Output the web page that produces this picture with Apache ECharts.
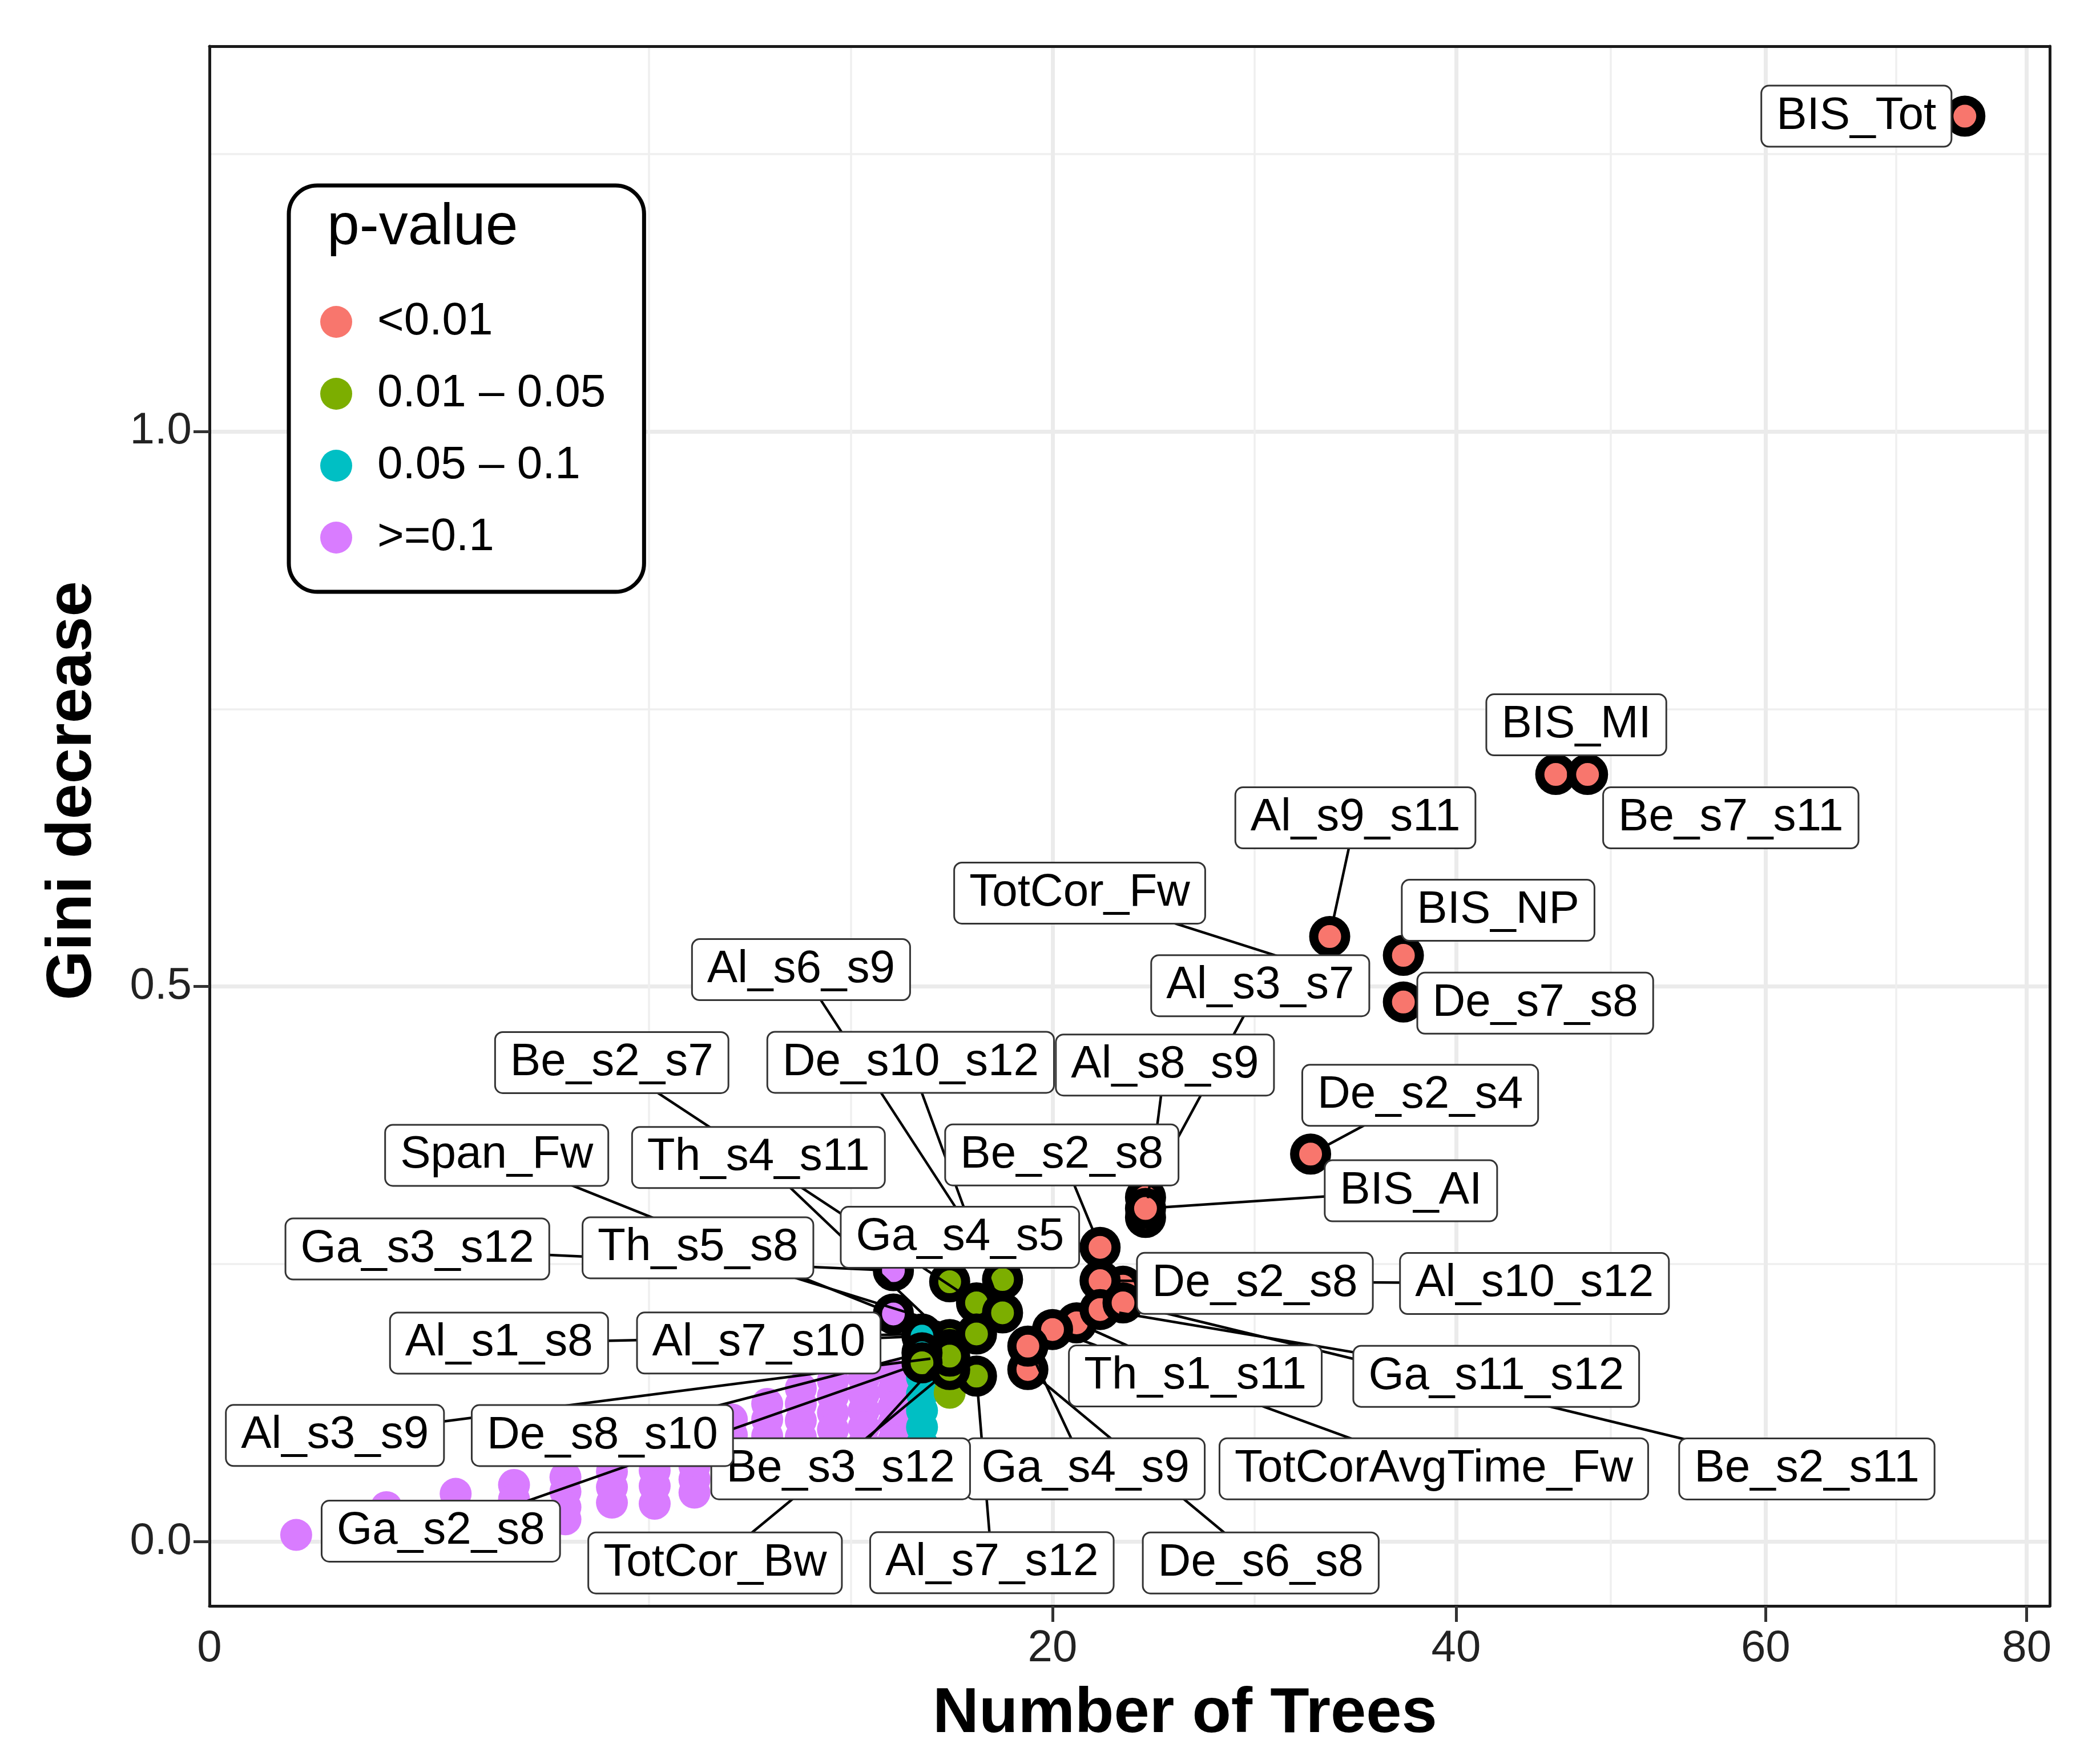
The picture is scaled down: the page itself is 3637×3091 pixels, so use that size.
<!DOCTYPE html>
<html>
<head>
<meta charset="utf-8">
<script src="https://cdn.jsdelivr.net/npm/echarts@6/dist/echarts.min.js"></script>
<style>
html,body{margin:0;padding:0;background:#fff;}
#chart{width:3637px;height:3091px;}
</style>
</head>
<body>
<div id="chart"></div>
<script>
// ---------------- data ----------------
const groups = ['<0.01', '0.01 – 0.05', '0.05 – 0.1', '>=0.1'];
const groupColors = ['#F8766D', '#7CAE00', '#00BFC4', '#D97CFF'];

const xTickValues = [0, 20, 40, 60, 80];
const yTickValues = [0, 0.5, 1.0];
const yMinorValues = [0.25, 0.75, 1.25];

// labelled variables (number of trees, Gini decrease, p-value group index)
const labNames = ['BIS_Tot','BIS_MI','Be_s7_s11','Al_s9_s11','TotCor_Fw','BIS_NP','De_s7_s8','Al_s3_s7','Al_s8_s9','De_s2_s4','BIS_AI','De_s2_s8','Al_s10_s12','Th_s1_s11','Ga_s11_s12','Be_s2_s11','TotCorAvgTime_Fw','De_s6_s8','Ga_s4_s9','Be_s2_s8','Al_s7_s12','TotCor_Bw','Ga_s4_s5','Al_s6_s9','Be_s2_s7','De_s10_s12','Th_s4_s11','Be_s3_s12','Ga_s3_s12','Span_Fw','Th_s5_s8','Al_s1_s8','Al_s7_s10','Al_s3_s9','De_s8_s10','Ga_s2_s8'];
const labTrees = [75,46,48,33,34,37,37,24,24,32,24,23,22,21,22,23,20,19,19,22,17,16,16,18,17,18,16,16,14,14,17,15,15,16,15,15];
const labGini = [1.284,0.691,0.691,0.545,0.507,0.528,0.486,0.310,0.292,0.349,0.300,0.230,0.235,0.197,0.209,0.215,0.191,0.155,0.176,0.265,0.149,0.155,0.234,0.236,0.215,0.206,0.182,0.173,0.244,0.205,0.187,0.187,0.185,0.167,0.170,0.161];
const labGroup = [0,0,0,0,0,0,0,0,0,0,0,0,0,0,0,0,0,0,0,0,1,1,1,1,1,1,1,1,3,3,1,1,2,1,2,1];

// unlabelled variables
const purpleTrees = [1,2,2,3,3,3,4,4,4,5,5,5,5,6,6,6,7,7,7,8,8,8,9,9,9,9,9,10,10,10,10,10,10,11,11,11,11,11,11,11,12,12,12,12,12,12,12,13,13,13,13,13,13,13,14,14,14,14,14,14,14];
const purpleGini = [0.006,0.031,0.016,0.043,0.029,0.015,0.051,0.038,0.024,0.058,0.045,0.031,0.020,0.063,0.049,0.035,0.064,0.050,0.034,0.068,0.056,0.044,0.110,0.096,0.081,0.066,0.052,0.124,0.110,0.095,0.080,0.066,0.055,0.138,0.124,0.109,0.094,0.079,0.065,0.054,0.145,0.131,0.116,0.101,0.086,0.071,0.057,0.147,0.133,0.118,0.103,0.088,0.073,0.059,0.150,0.136,0.121,0.106,0.091,0.076,0.061];
const cyanTrees = [15,15,15,15,15];
const cyanGini = [0.148,0.133,0.118,0.103,0.088];
const greenTrees = [16,16];
const greenGini = [0.147,0.134];
const redTrees = [];
const redGini = [];

// ---------------- layout (ggrepel-like label offsets in px, and whether a segment is drawn) ----------------
const labOffsets = [[-190,0],[36,-87],[251,76],[45,-208],[-471,-150],[166,-79],[231,2],[201,-371],[34,-267],[192,-103],[465,-31],[231,-5],[761,5],[208,93],[694,117],[1198,291],[668,244],[408,339],[101,215],[-67,-162],[27,327],[-411,339],[18,-78],[-353,-543],[-639,-421],[-161,-439],[-335,-319],[-191,209],[-834,-38],[-695,-278],[-488,-151],[-741,16],[-286,12],[-1077,139],[-560,145],[-843,295]];
const labSegment = [false,false,false,true,true,false,false,true,true,true,true,false,true,true,true,true,true,true,true,true,true,true,false,true,true,true,true,true,true,true,true,true,true,true,true,true];

// ---------------- chart ----------------
const FONT = '"Liberation Sans", Arial, Helvetica, sans-serif';
const X_MIN = 0.602, X_MAX = 9.05, Y_MIN = -0.058, Y_MAX = 1.347;

const sq = v => Math.sqrt(v);
const xMajor = xTickValues.filter(v => sq(v) >= X_MIN && sq(v) <= X_MAX).map(sq);
const xLabelPos = xTickValues.map(v => Math.min(Math.max(sq(v), X_MIN), X_MAX));
// ggplot-style minor breaks in transformed space
const ext = xMajor.slice();
ext.unshift(xMajor[0] - (xMajor[1] - xMajor[0]));
ext.push(xMajor[xMajor.length - 1] + (xMajor[xMajor.length - 1] - xMajor[xMajor.length - 2]));
const xMinor = [];
for (let i = 0; i < ext.length - 1; i++) {
  xMinor.push((ext[i] + ext[i + 1]) / 2);
}
xMinor.push(ext[0]);
const xMinorIn = xMinor.filter(v => v > X_MIN && v < X_MAX && xMajor.every(m => Math.abs(m - v) > 1e-6));

const toPts = (t, g) => t.map((v, i) => [sq(v), g[i]]);
const groupData = [toPts(redTrees, redGini), toPts(greenTrees, greenGini), toPts(cyanTrees, cyanGini), toPts(purpleTrees, purpleGini)];
const labValues = labNames.map((nm, i) => [sq(labTrees[i]), labGini[i]]);

const series = [];
[3, 2, 1, 0].forEach(gi => {
  series.push({
    type: 'scatter', name: groups[gi], z: 2, symbol: 'circle', symbolSize: 56,
    itemStyle: { color: groupColors[gi], opacity: 1 },
    data: groupData[gi], silent: true, emphasis: { disabled: true }
  });
});

// labelled points (black outline)
series.push({
  type: 'scatter', name: 'labelled', z: 3, symbol: 'circle', symbolSize: 56,
  data: labNames.map((nm, i) => ({ name: nm, value: labValues[i], itemStyle: { color: groupColors[labGroup[i]] } })),
  itemStyle: { borderColor: '#000', borderWidth: 16, opacity: 1 },
  silent: true, emphasis: { disabled: true }
});

// repel segments: from the point's edge towards the label centre (the label box hides the rest)
series.push({
  type: 'custom', name: 'segments', z: 4, silent: true,
  coordinateSystem: 'cartesian2d',
  encode: { x: 0, y: 1 },
  data: labValues,
  renderItem: (params, api) => {
    const i = params.dataIndex;
    if (!labSegment[i]) return { type: 'group', children: [] };
    const p = api.coord([api.value(0), api.value(1)]);
    const dx = labOffsets[i][0], dy = labOffsets[i][1];
    const len = Math.hypot(dx, dy);
    const r = 34;
    return {
      type: 'line',
      shape: { x1: p[0] + dx / len * r, y1: p[1] + dy / len * r, x2: p[0] + dx, y2: p[1] + dy },
      style: { stroke: '#000', lineWidth: 4.5, opacity: 1 }
    };
  }
});

// label boxes
series.push({
  type: 'scatter', name: 'labels', z: 5, symbol: 'circle', symbolSize: 0.1,
  data: labNames.map((nm, i) => ({ name: nm, value: labValues[i] })),
  itemStyle: { color: 'rgba(0,0,0,0)', opacity: 1 },
  label: {
    show: true, position: 'inside', formatter: '{b}', fontSize: 80, lineHeight: 80, fontFamily: FONT,
    color: '#000', opacity: 1, backgroundColor: '#fff', borderColor: '#333', borderWidth: 3, borderRadius: 12,
    padding: [13, 25, 11, 25]
  },
  labelLayout: p => ({ dx: labOffsets[p.dataIndex][0], dy: labOffsets[p.dataIndex][1] }),
  silent: true, emphasis: { disabled: true }
});

const option = {
  animation: false,
  backgroundColor: '#fff',
  textStyle: { fontFamily: FONT },
  grid: { left: 367, right: 46, top: 81, bottom: 277 },
  title: {
    text: 'p-value', left: 568, top: 344, z: 10,
    textStyle: { fontSize: 102, fontWeight: 'normal', color: '#000', fontFamily: FONT }
  },
  legend: {
    orient: 'vertical', left: 506, top: 325, z: 8,
    padding: [199, 67, 55, 55], itemWidth: 134, itemHeight: 56, itemGap: 46,
    icon: 'circle', symbolKeepAspect: true, selectedMode: false,
    backgroundColor: '#fff', borderColor: '#000', borderWidth: 7, borderRadius: 50,
    textStyle: { fontSize: 80, lineHeight: 80, color: '#000', fontFamily: FONT },
    data: groups.map((g, i) => ({ name: g, icon: 'circle', itemStyle: { color: groupColors[i], borderWidth: 0 } }))
  },
  xAxis: [{
    type: 'value', min: X_MIN, max: X_MAX, position: 'bottom',
    name: 'Number of Trees', nameLocation: 'middle', nameGap: 134,
    nameTextStyle: { fontSize: 112, fontWeight: 'bold', color: '#000', fontFamily: FONT, padding: [0, 0, 0, 194] },
    axisLine: { show: true, onZero: false, lineStyle: { color: '#1a1a1a', width: 5 } },
    axisTick: { show: true, customValues: xMajor, length: 28, lineStyle: { color: '#333', width: 5 } },
    axisLabel: {
      show: true, customValues: xLabelPos, fontSize: 78, color: '#222', margin: 36, fontFamily: FONT,
      formatter: v => { const i = xLabelPos.findIndex(p => Math.abs(p - v) < 1e-6); return i >= 0 ? String(xTickValues[i]) : ''; }
    },
    splitLine: { show: true, lineStyle: { color: '#EBEBEB', width: 7 } }
  }, {
    type: 'value', min: X_MIN, max: X_MAX, position: 'top',
    axisLine: { show: true, onZero: false, lineStyle: { color: '#1a1a1a', width: 5 } },
    axisTick: { show: false, customValues: xMinorIn },
    axisLabel: { show: false },
    splitLine: { show: true, lineStyle: { color: '#EFEFEF', width: 3.5 } }
  }],
  yAxis: [{
    type: 'value', min: Y_MIN, max: Y_MAX, position: 'left',
    name: 'Gini decrease', nameLocation: 'middle', nameGap: 183,
    nameTextStyle: { fontSize: 112, fontWeight: 'bold', color: '#000', fontFamily: FONT, padding: [0, 0, 0, 124] },
    axisLine: { show: true, onZero: false, lineStyle: { color: '#1a1a1a', width: 5 } },
    axisTick: { show: true, customValues: yTickValues, length: 28, lineStyle: { color: '#333', width: 5 } },
    axisLabel: { show: true, customValues: yTickValues, fontSize: 78, color: '#222', margin: 31, fontFamily: FONT, formatter: v => v.toFixed(1) },
    splitLine: { show: true, lineStyle: { color: '#EBEBEB', width: 7 } }
  }, {
    type: 'value', min: Y_MIN, max: Y_MAX, position: 'right',
    axisLine: { show: true, onZero: false, lineStyle: { color: '#1a1a1a', width: 5 } },
    axisTick: { show: false, customValues: yMinorValues },
    axisLabel: { show: false },
    splitLine: { show: true, lineStyle: { color: '#EFEFEF', width: 3.5 } }
  }],
  series: series
};

const chart = echarts.init(document.getElementById('chart'), null, { renderer: 'canvas' });
chart.setOption(option);
</script>
</body>
</html>
